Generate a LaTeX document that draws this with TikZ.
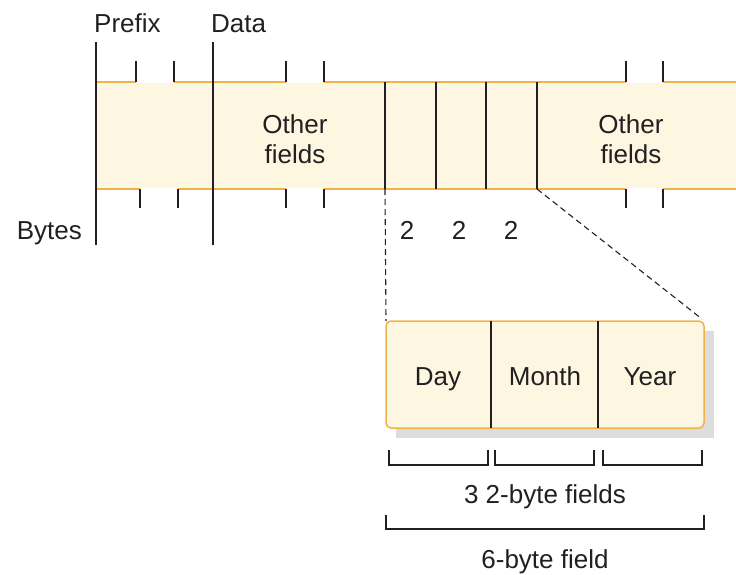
\documentclass[tikz,border=0pt]{standalone}
\usepackage{fontspec}
\setmainfont{Liberation Sans}
\definecolor{cream}{HTML}{FDF7E2}
\definecolor{orangeline}{HTML}{F2B24A}
\definecolor{shadowgray}{HTML}{DDDDDD}
\definecolor{txt}{HTML}{231F20}
\begin{document}
\begin{tikzpicture}[x=1pt,y=-1pt,
  lbl/.style={font=\fontsize{26}{30}\selectfont, inner sep=0pt, text=txt},
  blk/.style={line width=1.3pt, draw=txt},
  ora/.style={line width=2pt, draw=orangeline},
  dsh/.style={line width=1.1pt, draw=txt, dash pattern=on 6pt off 4pt},
  brk/.style={line width=1.2pt, draw=txt}]
\useasboundingbox (0,0) rectangle (736,574);
% band
\fill[cream] (96,83) rectangle (736,188);
\draw[ora] (96,82) -- (136,82) (174,82) -- (286,82) (324,82) -- (626,82) (663,82) -- (736,82);
\draw[ora] (96,189) -- (140,189) (178,189) -- (286,189) (324,189) -- (626,189) (663,189) -- (736,189);
% ticks
\foreach \x in {136,174,286,324,626,663} \draw[blk] (\x,61) -- (\x,82);
\foreach \x in {140,178,286,324,626,663} \draw[blk] (\x,189) -- (\x,208);
% long verticals
\draw[blk] (96,42) -- (96,245);
\draw[blk] (213,42) -- (213,245);
% dividers
\foreach \x in {385,436,486,537} \draw[blk] (\x,82) -- (\x,189);
% labels top
\node[lbl, anchor=base west] (prefix) at (94,32) {Prefix};
\node[lbl, anchor=base west] (data) at (211,32) {Data};
\node[lbl, anchor=base east] (bytes) at (82,239) {Bytes};
\node[lbl, anchor=base] (o1a) at (295,133) {Other};
\node[lbl, anchor=base] (o1b) at (295,163) {fields};
\node[lbl, anchor=base] (o2a) at (631,133) {Other};
\node[lbl, anchor=base] (o2b) at (631,163) {fields};
\node[lbl, anchor=base] (b1) at (407,239) {2};
\node[lbl, anchor=base] (b2) at (459,239) {2};
\node[lbl, anchor=base] (b3) at (511,239) {2};
% box
\fill[shadowgray] (396,331) rectangle (714,438);
\draw[ora, fill=cream, line width=1.5pt, rounded corners=5pt] (386,321) rectangle (704,428);
\draw[blk] (491,321) -- (491,428) (598,321) -- (598,428);
\coordinate (tl) at (386,321);
\coordinate (tr) at (702,319);
\coordinate (s1) at (385,189);
\coordinate (s2) at (537,189);
\draw[dsh] (s1) -- (tl);
\draw[dsh] (s2) -- (tr);
\node[lbl, anchor=base] (day) at (438,385) {Day};
\node[lbl, anchor=base] (month) at (545,385) {Month};
\node[lbl, anchor=base] (year) at (650,385) {Year};
% brackets
\draw[brk] (389,450) -- (389,465) -- (488,465) -- (488,450);
\draw[brk] (495,450) -- (495,465) -- (594,465) -- (594,450);
\draw[brk] (603,450) -- (603,465) -- (702,465) -- (702,450);
\node[lbl, anchor=base] (three) at (545,503) {3 2-byte fields};
\draw[brk] (386,515) -- (386,529) -- (704,529) -- (704,515);
\node[lbl, anchor=base] (six) at (545,568) {6-byte field};
\end{tikzpicture}
\end{document}
